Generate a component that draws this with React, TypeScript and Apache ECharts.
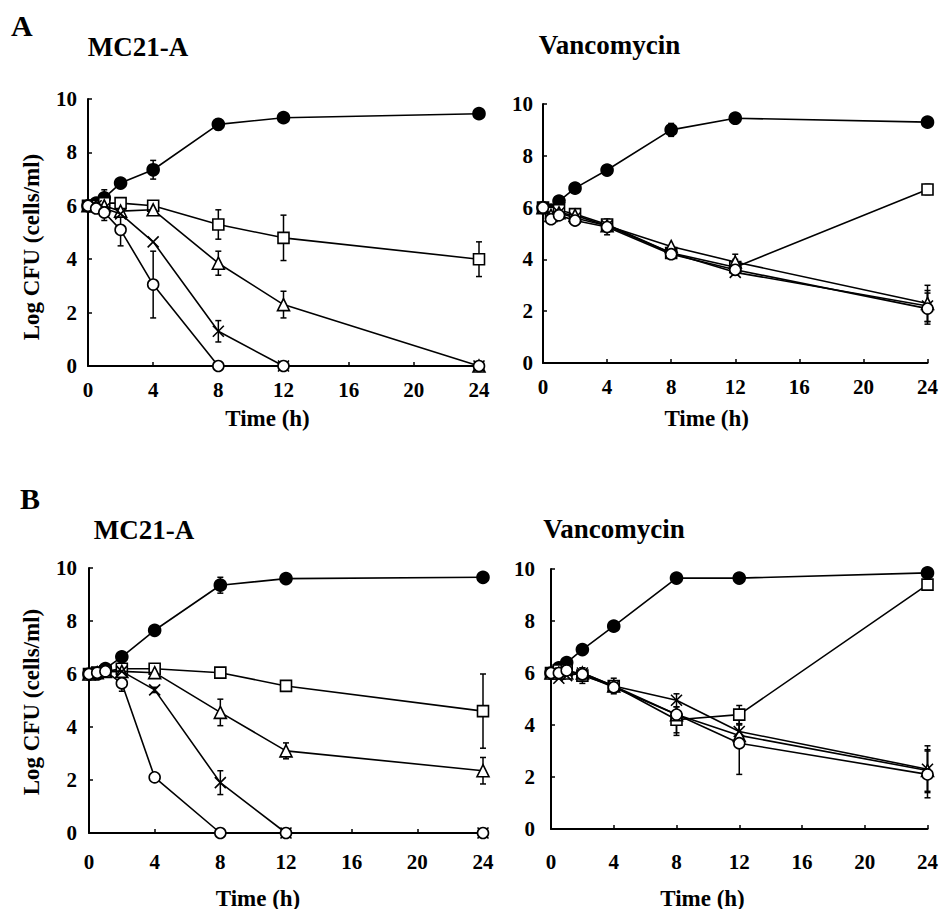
import React, { useEffect, useRef } from "react";
import * as echarts from "echarts";

// ---- shared axes / labels ----
const times = [0, 0.5, 1, 2, 4, 8, 12, 24];
const panelTitles = ["MC21-A", "Vancomycin", "MC21-A", "Vancomycin"];
const panelLetters = ["A", "B"];
const yAxisName = "Log CFU (cells/ml)";
const xAxisName = "Time (h)";

// ---- Panel A, MC21-A ----
const aMcControl = [6.0, 6.1, 6.3, 6.85, 7.35, 9.05, 9.3, 9.45];
const aMcControlErr = [0, 0, 0.3, 0, 0.35, 0.2, 0, 0];
const aMcSquare = [6.0, 6.0, 6.1, 6.1, 6.0, 5.3, 4.8, 4.0];
const aMcSquareErr = [0, 0, 0, 0, 0.1, 0.55, 0.85, 0.65];
const aMcTriangle = [6.0, 6.0, 6.0, 5.8, 5.85, 3.85, 2.3, 0];
const aMcTriangleErr = [0, 0, 0, 0, 0, 0.45, 0.5, 0];
const aMcCross = [6.0, 6.0, 5.9, 5.7, 4.65, 1.3, 0, 0];
const aMcCrossErr = [0, 0, 0, 0, 0, 0.4, 0, 0];
const aMcCircle = [6.0, 5.9, 5.75, 5.1, 3.05, 0, 0, 0];
const aMcCircleErr = [0, 0, 0.3, 0.6, 1.25, 0, 0, 0];

// ---- Panel A, Vancomycin ----
const aVaControl = [6.0, 5.9, 6.25, 6.75, 7.45, 9.0, 9.45, 9.3];
const aVaControlErr = [0, 0, 0.2, 0, 0, 0.25, 0, 0];
const aVaSquare = [6.0, 5.8, 5.9, 5.75, 5.35, 4.25, 3.7, 6.7];
const aVaSquareErr = [0, 0, 0, 0, 0.2, 0, 0.3, 0.2];
const aVaTriangle = [6.0, 5.7, 5.8, 5.7, 5.3, 4.5, 3.9, 2.3];
const aVaTriangleErr = [0, 0, 0, 0, 0, 0, 0.3, 0.7];
const aVaCross = [6.0, 5.7, 5.8, 5.6, 5.3, 4.25, 3.5, 2.2];
const aVaCrossErr = [0, 0, 0, 0, 0, 0, 0, 0.6];
const aVaCircle = [6.0, 5.55, 5.7, 5.5, 5.25, 4.2, 3.6, 2.1];
const aVaCircleErr = [0, 0, 0, 0.15, 0.3, 0, 0, 0.6];

// ---- Panel B, MC21-A ----
const bMcControl = [6.0, 6.0, 6.2, 6.65, 7.65, 9.35, 9.6, 9.65];
const bMcControlErr = [0, 0, 0, 0, 0.15, 0.3, 0, 0];
const bMcSquare = [6.0, 6.05, 6.1, 6.2, 6.2, 6.05, 5.55, 4.6];
const bMcSquareErr = [0, 0, 0, 0, 0, 0.1, 0.1, 1.4];
const bMcTriangle = [6.0, 6.05, 6.1, 6.1, 6.05, 4.55, 3.1, 2.35];
const bMcTriangleErr = [0, 0, 0, 0, 0, 0.5, 0.3, 0.5];
const bMcCross = [6.0, 6.05, 6.1, 6.1, 5.4, 1.9, 0, 0];
const bMcCrossErr = [0, 0, 0, 0, 0.1, 0.45, 0, 0];
const bMcCircle = [6.0, 6.05, 6.1, 5.65, 2.1, 0, 0, 0];
const bMcCircleErr = [0, 0, 0, 0.3, 0.15, 0, 0, 0];

// ---- Panel B, Vancomycin ----
const bVaControl = [6.0, 6.2, 6.4, 6.9, 7.8, 9.65, 9.65, 9.85];
const bVaControlErr = [0, 0, 0, 0, 0, 0, 0, 0];
const bVaSquare = [6.0, 6.1, 6.1, 5.9, 5.5, 4.2, 4.4, 9.4];
const bVaSquareErr = [0, 0, 0, 0.3, 0.3, 0.5, 0.35, 0.15];
const bVaTriangle = [6.0, 6.0, 6.0, 6.0, 5.5, 4.4, 3.6, 2.25];
const bVaTriangleErr = [0, 0, 0, 0, 0, 0.3, 0.4, 0.8];
const bVaCross = [6.0, 5.8, 5.9, 6.0, 5.5, 4.95, 3.75, 2.3];
const bVaCrossErr = [0, 0, 0, 0.2, 0.2, 0, 0.3, 0.9];
const bVaCircle = [6.0, 6.0, 6.1, 5.95, 5.45, 4.4, 3.3, 2.1];
const bVaCircleErr = [0, 0, 0, 0, 0.2, 0.8, 1.2, 0.9];

const panels = [
  [
    [aMcControl, aMcControlErr],
    [aMcSquare, aMcSquareErr],
    [aMcTriangle, aMcTriangleErr],
    [aMcCross, aMcCrossErr],
    [aMcCircle, aMcCircleErr],
  ],
  [
    [aVaControl, aVaControlErr],
    [aVaSquare, aVaSquareErr],
    [aVaTriangle, aVaTriangleErr],
    [aVaCross, aVaCrossErr],
    [aVaCircle, aVaCircleErr],
  ],
  [
    [bMcControl, bMcControlErr],
    [bMcSquare, bMcSquareErr],
    [bMcTriangle, bMcTriangleErr],
    [bMcCross, bMcCrossErr],
    [bMcCircle, bMcCircleErr],
  ],
  [
    [bVaControl, bVaControlErr],
    [bVaSquare, bVaSquareErr],
    [bVaTriangle, bVaTriangleErr],
    [bVaCross, bVaCrossErr],
    [bVaCircle, bVaCircleErr],
  ],
];

const FONT = "'Liberation Serif', 'Times New Roman', serif";

const markerStyles = [
  { symbol: "circle", size: 12, fill: "#000" },
  { symbol: "rect", size: 11, fill: "#fff" },
  { symbol: "triangle", size: 12, fill: "#fff" },
  { symbol: "path://M0,0L10,10M10,0L0,10", size: 11, fill: "none" },
  { symbol: "circle", size: 11, fill: "#fff" },
];

const grids = [
  { left: 88, top: 99, width: 391, height: 267 },
  { left: 543, top: 104, width: 391, height: 259 },
  { left: 89, top: 568, width: 394, height: 265 },
  { left: 551, top: 569, width: 383, height: 260 },
];
const xLabelMargins = [13, 13, 18, 22];
const yLabelMargins = [11, 10, 12, 16];

function errorRender(params: any, api: any) {
  const t = api.value(0);
  const lo = api.coord([t, api.value(1)]);
  const hi = api.coord([t, api.value(2)]);
  const w = 3;
  const style = { stroke: "#000", lineWidth: 1.5 };
  return {
    type: "group",
    children: [
      { type: "line", shape: { x1: lo[0], y1: lo[1], x2: hi[0], y2: hi[1] }, style },
      { type: "line", shape: { x1: lo[0] - w, y1: lo[1], x2: lo[0] + w, y2: lo[1] }, style },
      { type: "line", shape: { x1: hi[0] - w, y1: hi[1], x2: hi[0] + w, y2: hi[1] }, style },
    ],
  };
}

function buildOption() {
  const xAxis: any[] = [];
  const yAxis: any[] = [];
  const series: any[] = [];
  grids.forEach((g, p) => {
    xAxis.push({
      type: "value",
      gridIndex: p,
      min: 0,
      max: 24,
      interval: 4,
      axisLine: { lineStyle: { color: "#000", width: 2 } },
      axisTick: { inside: true, length: 4, lineStyle: { color: "#000", width: 1.5 } },
      axisLabel: {
        color: "#000",
        fontFamily: FONT,
        fontWeight: "bold",
        fontSize: 21,
        margin: xLabelMargins[p],
      },
      splitLine: { show: false },
    });
    yAxis.push({
      type: "value",
      gridIndex: p,
      min: 0,
      max: 10,
      interval: 2,
      axisLine: { show: true, lineStyle: { color: "#000", width: 2 } },
      axisTick: { show: true, inside: true, length: 4, lineStyle: { color: "#000", width: 1.5 } },
      axisLabel: {
        color: "#000",
        fontFamily: FONT,
        fontWeight: "bold",
        fontSize: 21,
        margin: yLabelMargins[p],
      },
      splitLine: { show: false },
    });
    panels[p].forEach(([vals, errs], s) => {
      const errData: any[] = [];
      times.forEach((t, i) => {
        if (errs[i] > 0) errData.push([t, vals[i] - errs[i], vals[i] + errs[i]]);
      });
      series.push({
        type: "custom",
        xAxisIndex: p,
        yAxisIndex: p,
        renderItem: errorRender,
        encode: { x: 0, y: [1, 2] },
        data: errData,
        clip: false,
        z: 1,
        silent: true,
      });
      const m = markerStyles[s];
      series.push({
        type: "line",
        xAxisIndex: p,
        yAxisIndex: p,
        data: times.map((t, i) => [t, vals[i]]),
        symbol: m.symbol,
        symbolSize: m.size,
        showAllSymbol: true,
        clip: false,
        lineStyle: { color: "#000", width: 1.6 },
        itemStyle: { color: m.fill, borderColor: "#000", borderWidth: 1.6, opacity: 1 },
        z: 2 + s,
        silent: true,
      });
    });
  });

  const txt = (x: number, y: number, text: string, size: number, align = "center", rotation = 0) => ({
    type: "text",
    x,
    y,
    rotation,
    style: {
      text,
      fill: "#000",
      font: `bold ${size}px ${FONT}`,
      textAlign: align,
      textVerticalAlign: "middle",
    },
  });

  const graphic = [
    txt(11, 25, panelLetters[0], 30, "left"),
    txt(20, 498, panelLetters[1], 30, "left"),
    txt(138, 46.5, panelTitles[0], 27),
    txt(609.5, 45, panelTitles[1], 27),
    txt(144, 530, panelTitles[2], 27),
    txt(614, 529, panelTitles[3], 27),
    txt(31, 247, yAxisName, 23, "center", Math.PI / 2),
    txt(31, 702, yAxisName, 23, "center", Math.PI / 2),
    txt(267.5, 418, xAxisName, 23),
    txt(706.7, 418, xAxisName, 23),
    txt(258, 898, xAxisName, 23),
    txt(702.5, 898, xAxisName, 23),
  ];

  return {
    animation: false,
    backgroundColor: "#fff",
    grid: grids.map((g) => ({ ...g, containLabel: false })),
    xAxis,
    yAxis,
    series,
    graphic,
  };
}

export default function App() {
  const ref = useRef<HTMLDivElement>(null);
  useEffect(() => {
    if (!ref.current) return;
    const chart = echarts.init(ref.current, undefined, { renderer: "svg" });
    chart.setOption(buildOption() as any);
    return () => chart.dispose();
  }, []);
  return (
    <div
      ref={ref}
      style={{ position: "fixed", left: 0, top: 0, width: 941, height: 909, background: "#fff" }}
    />
  );
}
